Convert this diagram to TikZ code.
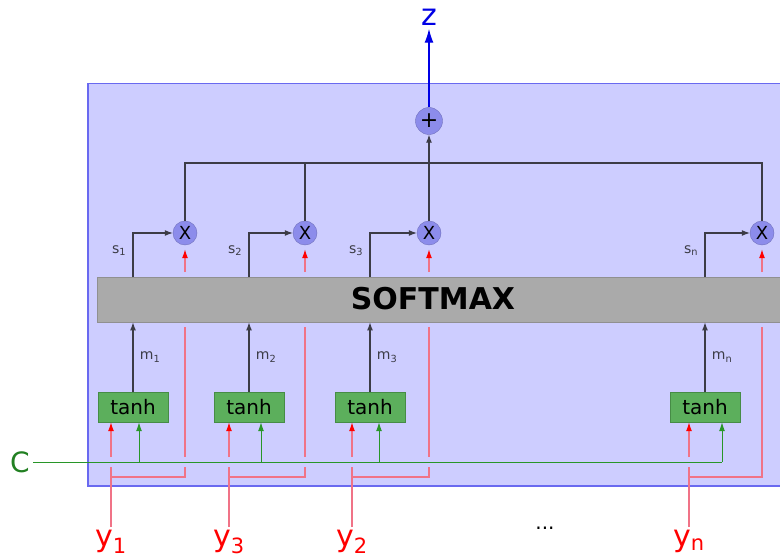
\documentclass[tikz,border=0pt]{standalone}
\usepackage{fontspec}
\setmainfont{DejaVu Sans}
\usetikzlibrary{shapes,arrows.meta}
\definecolor{panelfill}{RGB}{205,205,255}
\definecolor{paneldraw}{RGB}{105,105,240}
\definecolor{barfill}{RGB}{170,170,170}
\definecolor{gatefill}{RGB}{92,175,92}
\definecolor{gatedraw}{RGB}{70,140,70}
\definecolor{opfill}{RGB}{140,140,235}
\definecolor{wire}{RGB}{60,60,70}
\definecolor{redwire}{RGB}{240,115,135}
\definecolor{greenwire}{RGB}{40,150,40}

\begin{document}
\begin{tikzpicture}[x=1pt,y=-1pt]
        \tikzstyle{panel}=[rectangle,draw=paneldraw,fill=panelfill,line width=1.5pt,anchor=north west,inner sep=0pt]
        \tikzstyle{bar}=[rectangle,draw=barfill!85!black,fill=barfill,anchor=north west,inner sep=0pt]
        \tikzstyle{gate}=[rectangle,draw=gatedraw,fill=gatefill,minimum width=70pt,minimum height=30pt,inner sep=0pt,font=\fontsize{20}{20}\selectfont]
        \tikzstyle{op}=[circle,draw=opfill!80!black,fill=opfill,inner sep=0pt,font=\fontsize{18}{18}\selectfont]
        \tikzstyle{lbl}=[font=\fontsize{14}{14}\selectfont,text=wire]
        \tikzstyle{ylbl}=[font=\fontsize{30}{30}\selectfont,text=red]
        \tikzstyle{blk}=[draw=wire,line width=1.1pt]
        \tikzstyle{blkarr}=[blk,-{Latex[length=8pt,width=6pt]}]
        \tikzstyle{redline}=[draw=redwire,line width=1.2pt]
        \tikzstyle{redarr}=[redline,-{Latex[length=9pt,width=6pt,color=red]}]
        \tikzstyle{greenarr}=[draw=greenwire,line width=1pt,-{Latex[length=9pt,width=6pt]}]
        \useasboundingbox (0,0) rectangle (780,559);
        \clip (0,0) rectangle (780,559);

        \node[panel,minimum width=720pt,minimum height=402pt] (panel) at (87,83) {};
        \node[bar,minimum width=710pt,minimum height=45pt] (softmax) at (97,277) {};
        \node[font=\bfseries\fontsize{30}{30}\selectfont] (smtext) at (433,299) {SOFTMAX};
        \node[op,minimum size=27pt,font=\fontsize{22}{22}\selectfont] (plus) at (429,121) {+};
        \node[font=\fontsize{30}{30}\selectfont,text=blue!90!black] (z) at (429,17) {z};
        \node[font=\fontsize{28}{28}\selectfont,text=greenwire!85!black] (C) at (20,462) {C};
        \node[font=\fontsize{20}{20}\selectfont] (dots) at (545,528) {...};
        \coordinate (top) at (0,163);
        \coordinate (cross) at (0,462);

        \foreach \i/\mx/\tx/\rx/\gx/\ylab/\g in {1/185/133/111/139/1/5, 2/305/249/229/261/3/5, 3/429/370/352/379/2/5, n/762/705/689/722/n/0}{
            \node[op,minimum size=24pt] (mul\i) at (\mx,233) {X};
            \node[gate] (tanh\i) at (\tx,407) {tanh};
            \node[ylbl,anchor=north] (y\i) at (\rx,527) {y\textsubscript{\ylab}};
            \coordinate (g\i) at (\gx,462);
            % s and m
            \draw[blkarr] (tanh\i.north |- softmax.north) |- (mul\i.west)
                node[lbl,pos=0.3,left=3pt] {s\textsubscript{\i}};
            \draw[blkarr] (tanh\i.north) -- (tanh\i.north |- softmax.south)
                node[lbl,pos=0.5,right=3pt] {m\textsubscript{\i}};
            % red inputs
            \draw[redarr] ([yshift=5pt]softmax.north -| mul\i) -- ([yshift=-4pt]mul\i.south);
            \draw[redline] (y\i.north) -- ([yshift=-5pt]cross -| y\i);
            \draw[redarr] ([yshift=5pt]cross -| y\i) -- (tanh\i.south -| y\i);
            \draw[redline] ([yshift=-5pt]softmax.south -| mul\i) -- ([yshift=\g pt]cross -| mul\i);
            \draw[redline] ([yshift=-\g pt]cross -| mul\i) -- ([yshift=-15pt]cross -| mul\i) -- ([yshift=-15pt]cross -| y\i);
            % green
            \draw[greenarr] (g\i) -- (g\i |- tanh\i.south);
        }
        \draw[draw=greenwire,line width=1pt] (C.east) -- (gn);

        \draw[blk] (mul1.north) -- (mul1 |- top) -- (muln |- top) -- (muln.north);
        \draw[blk] (mul2.north) -- (mul2 |- top);
        \draw[blkarr] (mul3.north) -- (plus.south);
        \draw[draw=blue!90!black,line width=1.4pt,-{Latex[length=14pt,width=9pt]}] (plus.north) -- (z.south);
\end{tikzpicture}
\end{document}
